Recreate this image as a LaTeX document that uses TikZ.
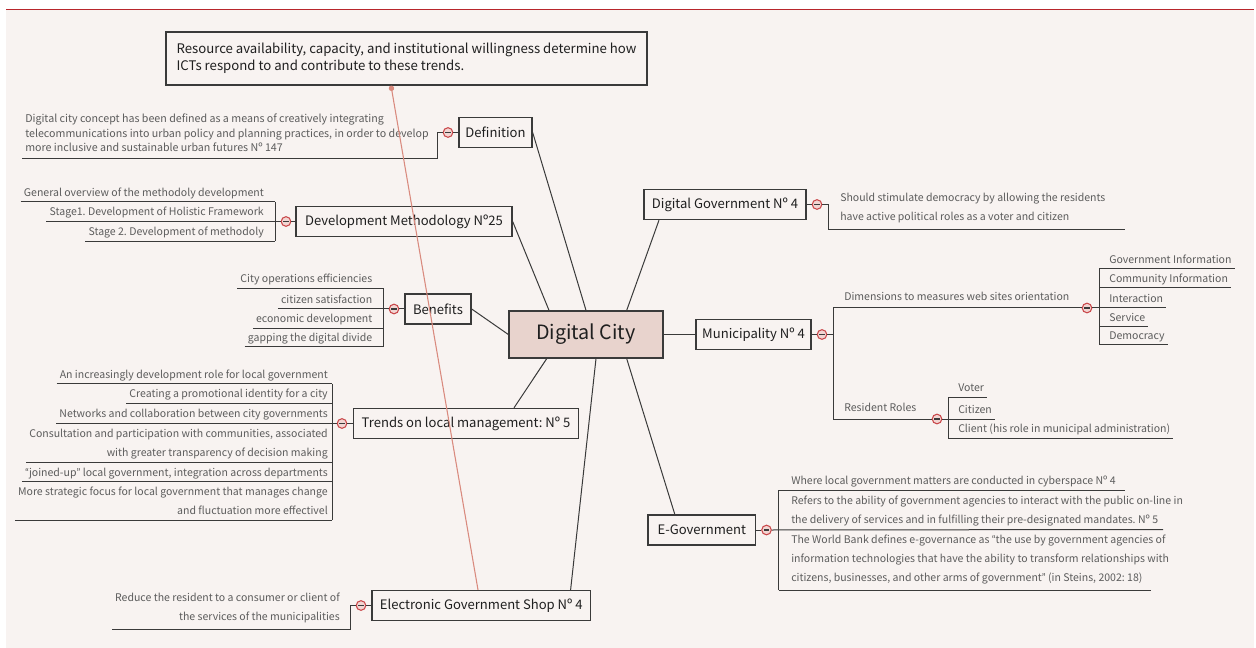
\documentclass[tikz,border=0pt]{standalone}
\usepackage{fontspec}
\newfontfamily\fonte{Noto Sans CJK SC}
\newfontfamily\virg{Lato}
\usetikzlibrary{calc,arrows.meta}
\definecolor{sfondo}{HTML}{F8F3F1}
\definecolor{rosato}{HTML}{E8D3CD}
\definecolor{bordo}{HTML}{3A3A3A}
\definecolor{grigio}{HTML}{5C5C5C}
\definecolor{rossoscuro}{HTML}{B8262C}
\definecolor{rosso}{HTML}{C9474A}
\definecolor{rosa}{HTML}{F2D6D3}
\definecolor{salmone}{HTML}{D98A7E}

\begin{document}
\frenchspacing
\begin{tikzpicture}[
    x=0.75pt, y=-0.75pt,
    font=\fonte,
    tema/.style={draw=bordo, line width=1pt, fill=sfondo, minimum height=22.5pt,
                 inner xsep=4pt, text=black!88, font=\fonte\fontsize{9.8}{12}\selectfont},
    centro/.style={tema, fill=rosato, minimum width=115.5pt, minimum height=35.25pt,
                 font=\fonte\fontsize{14.8}{18}\selectfont},
    nota/.style={tema, align=left, minimum width=360.75pt, minimum height=39.75pt,
                 font=\fonte\fontsize{9.9}{12.75}\selectfont},
    voce/.style={inner xsep=2.25pt, inner ysep=0pt, text=grigio,
                 font=\fonte\fontsize{7.9}{14.25}\selectfont,
                 execute at end node={\rule[-#1]{0pt}{#1}}},
    voce/.default=4pt,
    vsx/.style={voce=#1, anchor=south east, align=right}, vsx/.default=4pt,
    vdx/.style={voce=#1, anchor=south west, align=left}, vdx/.default=4pt,
    segno/.style={circle, draw=rosso, fill=rosa, line width=0.8pt, minimum size=7.2pt,
                 inner sep=0pt,
                 path picture={\draw[line width=0.9pt, bordo]
                   ([xshift=-2pt]path picture bounding box.center) --
                   ([xshift=2pt]path picture bounding box.center);}},
    ramo/.style={draw=bordo, line width=0.75pt},
    legame/.style={draw=salmone, line width=0.8pt, {Circle[length=4pt]}-}]

  \useasboundingbox (0,0) rectangle (1256,648);
  \fill[white] (0,0) rectangle (1256,648);
  \fill[sfondo] (6,9) rectangle (1254,648);
  \draw[rossoscuro, line width=1.3pt] (6,9.5) -- (1254,9.5);

  % centro e nota
  \node[centro] (city) at (586,334.5) {Digital City};
  \node[nota] (risorse) at (406.5,58.5) {Resource availability, capacity, and institutional willingness determine how\\ICTs respond to and contribute to these trends.};

  % temi
  \node[tema, minimum width=54.75pt]  (def)  at (495.5,132.5) {Definition};
  \node[tema, minimum width=162pt]    (dev)  at (404,221.5)   {Development Methodology Nº25};
  \node[tema, minimum width=49.5pt]   (ben)  at (438,309)     {Benefits};
  \node[tema, minimum width=168.75pt] (tre)  at (466,423.5)   {Trends on local management: Nº 5};
  \node[tema, minimum width=164pt]    (shop) at (481.3,605.5) {Electronic Government Shop Nº 4};
  \node[tema, minimum width=121.5pt]  (dgov) at (725,204.5)   {Digital Government Nº 4};
  \node[tema, minimum width=86.25pt]  (mun)  at (753.5,334.5) {Municipality Nº 4};
  \node[tema, minimum width=80.7pt]   (egov) at (701.8,530)   {E-Government};

  % segni di chiusura
  \node[segno] (defS)  at (448,132.5) {};
  \node[segno] (devS)  at (286,221.5) {};
  \node[segno] (benS)  at (394,309)   {};
  \node[segno] (treS)  at (342,423.5) {};
  \node[segno] (shopS) at (361,605.5) {};
  \node[segno] (dgovS) at (817,204.5) {};
  \node[segno] (munS)  at (822,334.5) {};
  \node[segno] (dimS)  at (1087,308)  {};
  \node[segno] (resS)  at (937,419)   {};
  \node[segno] (egovS) at (766.5,530) {};

  % parentesi
  \coordinate (defA)  at (437,159);
  \coordinate (devA)  at (275,202);   \coordinate (devB) at (275,241.3);
  \coordinate (benA)  at (383,288.5); \coordinate (benB) at (383,347);
  \coordinate (treA)  at (332,384);   \coordinate (treB) at (332,520.3);
  \coordinate (shopA) at (350,629.3);
  \coordinate (dgovA) at (828.5,229.3);
  \coordinate (munA)  at (833,308);   \coordinate (munB) at (833,419);
  \coordinate (dimA)  at (1099,269);  \coordinate (dimB) at (1099,345);
  \coordinate (resA)  at (948,397);   \coordinate (resB) at (948,438.3);
  \coordinate (egA)   at (778.7,490); \coordinate (egB)  at (778.7,590);

  % voci a sinistra
  \node[vdx=5.25pt, font=\fonte\fontsize{8}{10.8}\selectfont] (def1) at (22,159)
    {Digital city concept has been defined as a means of creatively integrating\\telecommunications into urban policy and planning practices, in order to develop\\more inclusive and sustainable urban futures Nº 147};
  \node[vsx] (dev1) at (267,202)   {General overview of the methodoly development};
  \node[vsx] (dev2) at (267,221.5) {Stage1. Development of Holistic Framework};
  \node[vsx] (dev3) at (267,241.3) {Stage 2. Development of methodoly};
  \node[vsx] (ben1) at (375.5,288.5) {City operations efficiencies};
  \node[vsx] (ben2) at (375.5,309)   {citizen satisfaction};
  \node[vsx] (ben3) at (375.5,328.5) {economic development};
  \node[vsx] (ben4) at (375.5,347)   {gapping the digital divide};
  \node[vsx] (tre1) at (331,384)   {An increasingly development role for local government};
  \node[vsx] (tre2) at (331,403.5) {Creating a promotional identity for a city};
  \node[vsx] (tre3) at (331,423.5) {Networks and collaboration between city governments};
  \node[vsx] (tre4) at (331,462)   {Consultation and participation with communities, associated\\with greater transparency of decision making};
  \node[vsx] (tre5) at (331,481.7) {{\virg “}joined-up{\virg ”} local government, integration across departments};
  \node[vsx] (tre6) at (331,520.3) {More strategic focus for local government that manages change\\and fluctuation more effectivel};
  \node[vsx=6.75pt] (shop1) at (343,629.3) {Reduce the resident to a consumer or client of\\the services of the municipalities};

  % voci a destra
  \node[vdx=6.75pt] (dgov1) at (837,229.3) {Should stimulate democracy by allowing the residents\\have active political roles as a voter and citizen};
  \node[vdx=5.6pt] (dim) at (841,308) {Dimensions to measures web sites orientation};
  \node[vdx=5.6pt] (res) at (841,419) {Resident Roles};
  \node[vdx] (dim1) at (1106,269) {Government Information};
  \node[vdx] (dim2) at (1106,288) {Community Information};
  \node[vdx] (dim3) at (1106,308) {Interaction};
  \node[vdx] (dim4) at (1106,327) {Service};
  \node[vdx] (dim5) at (1106,345) {Democracy};
  \node[vdx] (res1) at (955,397)   {Voter};
  \node[vdx] (res2) at (955,419)   {Citizen};
  \node[vdx] (res3) at (955,438.3) {Client (his role in municipal administration)};
  \node[vdx=3.75pt] (eg1) at (788,490)   {Where local government matters are conducted in cyberspace Nº 4};
  \node[vdx=4.5pt]  (eg2) at (788,529.5) {Refers to the ability of government agencies to interact with the public on-line in\\the delivery of services and in fulfilling their pre-designated mandates. Nº 5};
  \node[vdx=6pt]    (eg3) at (788,590)   {The World Bank defines e-governance as {\virg “}the use by government agencies of\\information technologies that have the ability to transform relationships with\\citizens, businesses, and other arms of government{\virg ”} (in Steins, 2002: 18)};

  % rami verso il centro
  \draw[ramo] (def.east) -- (city.north);
  \draw[ramo] (dev.east) -- ($(city.north)+(-37,0)$);
  \draw[ramo] (ben.east) -- (city.west);
  \draw[ramo] ($(tre.north)+(48,0)$) -- ($(city.south)+(-39.3,0)$);
  \draw[ramo] ($(shop.north)+(89.3,0)$) -- ($(city.south)+(10,0)$);
  \draw[ramo] ($(dgov.south)+(-66,0)$) -- ($(city.north)+(40.7,0)$);
  \draw[ramo] (city.east) -- (mun.west);
  \draw[ramo] ($(egov.north)+(-27,0)$) -- ($(city.south)+(40.7,0)$);

  % temi e segni
  \draw[ramo] (def.west) -- (defS.east);
  \draw[ramo] (dev.west) -- (devS.east);
  \draw[ramo] (ben.west) -- (benS.east);
  \draw[ramo] (tre.west) -- (treS.east);
  \draw[ramo] (shop.west) -- (shopS.east);
  \draw[ramo] (dgov.east) -- (dgovS.west);
  \draw[ramo] (mun.east) -- (munS.west);
  \draw[ramo] (egov.east) -- (egovS.west);

  % parentesi a sinistra
  \draw[ramo] (defS.west) -| (defA) -- (def1.south west);
  \draw[ramo] (devA) -- (devB);
  \draw[ramo] (dev1.south west) -- (devA);
  \draw[ramo] (dev2.south west) -- (devS.west);
  \draw[ramo] (dev3.south west) -- (devB);
  \draw[ramo] (benA) -- (benB);
  \draw[ramo] (ben1.south west) -- (benA);
  \draw[ramo] (ben2.south west) -- (benS.west);
  \draw[ramo] (ben3.south west) -- (ben3.south west -| benA);
  \draw[ramo] (ben4.south west) -- (benB);
  \draw[ramo] (treA) -- (treB);
  \draw[ramo] (tre1.south west) -- (treA);
  \draw[ramo] (tre2.south west) -- (tre2.south west -| treA);
  \draw[ramo] (tre3.south west) -- (treS.west);
  \draw[ramo] (tre4.south west) -- (tre4.south west -| treA);
  \draw[ramo] (tre5.south west) -- (tre5.south west -| treA);
  \draw[ramo] (tre6.south west) -- (treB);
  \draw[ramo] (shopS.west) -| (shopA) -- (shop1.south west);

  % parentesi a destra
  \draw[ramo] (dgovS.east) -| (dgovA) -- ($(dgov1.south west)+(288,0)$);
  \draw[ramo] (munS.east) -- (munS.east -| munA);
  \draw[ramo] (dimS.west) -- (munA) -- (munB) -- (resS.west);
  \draw[ramo] (dimA) -- (dimB);
  \draw[ramo] (dimA) -- (dim1.south east);
  \draw[ramo] (dim2.south west -| dimA) -- (dim2.south east);
  \draw[ramo] (dimS.east) -- (dim3.south east);
  \draw[ramo] (dim4.south west -| dimA) -- (dim4.south east);
  \draw[ramo] (dimB) -- (dim5.south east);
  \draw[ramo] (resA) -- (resB);
  \draw[ramo] (resA) -- (res1.south east);
  \draw[ramo] (resS.east) -- (res2.south east);
  \draw[ramo] (resB) -- (res3.south east);
  \draw[ramo] (egA) -- (egB);
  \draw[ramo] (egA) -- ($(eg1.south west)+(337,0)$);
  \draw[ramo] (egovS.east) -- ($(eg2.south west)+(375,0)$);
  \draw[ramo] (egB) -- ($(eg3.south west)+(363,0)$);

  % legame della nota
  \draw[legame] ($(risorse.south)+(-15.5,0)$) -- ($(shop.north)+(-3.3,0)$);

\end{tikzpicture}
\end{document}
